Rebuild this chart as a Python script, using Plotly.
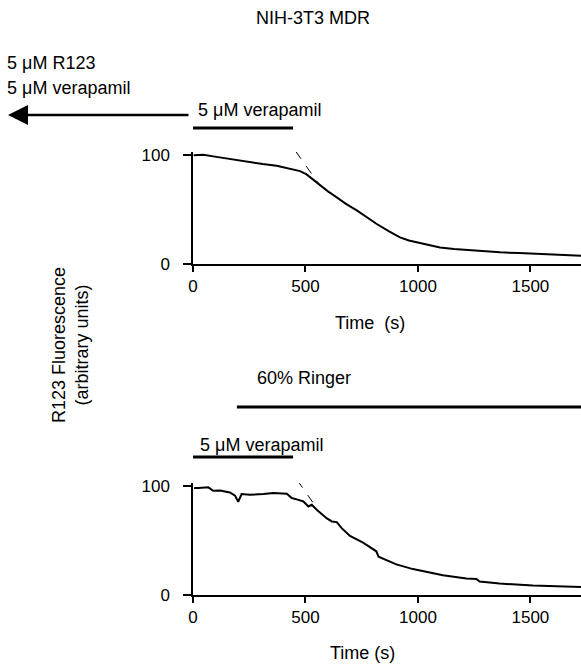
import plotly.graph_objects as go

# ---------------- data ----------------
time_top = [3, 46, 90, 135, 190, 253, 310, 372, 430, 476, 505, 535, 565, 600, 639, 680,
            728, 770, 817, 870, 920, 960, 995, 1050, 1098, 1160, 1217, 1290, 1365, 1450,
            1530, 1587, 1650, 1725]
fluor_top = [99.5, 100, 98.5, 97, 95.5, 93, 91.5, 90, 87.5, 85, 82, 77, 72, 66.5, 61, 55,
             49, 43, 36.6, 30, 24.4, 21.5, 19.8, 17, 15.2, 13.8, 12.8, 11.6, 10.7, 10,
             9.4, 9.1, 8.3, 7.6]

time_bot = [5, 24, 68, 90, 120, 164, 187, 201, 216, 253, 313, 357, 417, 439, 465, 491,
            513, 528, 550, 594, 617, 639, 661, 698, 756, 815, 825, 904, 978, 1037, 1111,
            1215, 1260, 1274, 1363, 1511, 1725]
fluor_bot = [98, 97.9, 98.5, 95.4, 95.7, 93.9, 90.8, 85.3, 92.4, 91.7, 92.4, 93.3, 92.7,
             88.7, 87.3, 85.6, 81, 82.6, 78, 70.3, 67.3, 66.7, 61.2, 54, 48, 40, 35, 28,
             23.7, 20.9, 18, 15.1, 14.6, 12.3, 10.5, 8.6, 7.4]

tangent_top_t = [457, 560]
tangent_top_f = [103, 73]
tangent_bot_t = [464, 542]
tangent_bot_f = [105, 82]

verapamil_interval = [0, 445]
ringer_interval = [195, 1800]

x_ticks = [0, 500, 1000, 1500]
y_ticks = [0, 100]

W, H = 581, 667
FONT = "Liberation Sans, Arial, sans-serif"


def px(x):
    return x / W


def py(y):
    return 1 - y / H


fig = go.Figure()

fig.add_trace(go.Scatter(x=time_top, y=fluor_top, mode="lines",
                         line=dict(color="black", width=2), xaxis="x", yaxis="y",
                         showlegend=False))
fig.add_trace(go.Scatter(x=tangent_top_t, y=tangent_top_f, mode="lines",
                         line=dict(color="black", width=1, dash="dash"), xaxis="x",
                         yaxis="y", showlegend=False, cliponaxis=False))
fig.add_trace(go.Scatter(x=time_bot, y=fluor_bot, mode="lines",
                         line=dict(color="black", width=2), xaxis="x2", yaxis="y2",
                         showlegend=False))
fig.add_trace(go.Scatter(x=tangent_bot_t, y=tangent_bot_f, mode="lines",
                         line=dict(color="black", width=1, dash="dash"), xaxis="x2",
                         yaxis="y2", showlegend=False, cliponaxis=False))

xdom = [px(193), 1.0]
ydom_top = [py(264), py(152)]
ydom_bot = [py(595), py(483)]

axis_common = dict(showgrid=False, zeroline=False, showline=True, linecolor="black",
                   linewidth=1.5, ticks="outside", tickcolor="black", tickwidth=1.5,
                   automargin=False,
                   tickfont=dict(family=FONT, size=17, color="black"))

fig.update_layout(
    template="none",
    width=W, height=H, autosize=False,
    margin=dict(l=0, r=0, t=0, b=0, pad=0),
    paper_bgcolor="white", plot_bgcolor="white",
    xaxis=dict(domain=xdom, range=[0, 1725], tickvals=x_ticks, ticklen=6,
               anchor="y", **axis_common),
    yaxis=dict(domain=ydom_top, range=[0, 102.5], tickvals=y_ticks, ticklen=8,
               anchor="x", ticklabelstandoff=10, **axis_common),
    xaxis2=dict(domain=xdom, range=[0, 1725], tickvals=x_ticks, ticklen=6,
                anchor="y2", **axis_common),
    yaxis2=dict(domain=ydom_bot, range=[0, 102.5], tickvals=y_ticks, ticklen=8,
                anchor="x2", ticklabelstandoff=10, **axis_common),
)

# condition bars
shapes = [
    dict(type="line", xref="x", yref="paper", x0=verapamil_interval[0],
         x1=verapamil_interval[1], y0=py(128), y1=py(128),
         line=dict(color="black", width=3)),
    dict(type="line", xref="x2", yref="paper", x0=verapamil_interval[0],
         x1=verapamil_interval[1], y0=py(457), y1=py(457),
         line=dict(color="black", width=3)),
    dict(type="line", xref="x2", yref="paper", x0=ringer_interval[0],
         x1=ringer_interval[1], y0=py(407), y1=py(407),
         line=dict(color="black", width=3)),
]
fig.update_layout(shapes=shapes)


def txt(x, y, s, xanchor="left", size=18, angle=0):
    return dict(x=px(x), y=py(y), xref="paper", yref="paper", text=s,
                showarrow=False, xanchor=xanchor, yanchor="middle", textangle=angle,
                font=dict(family=FONT, size=size, color="black"))


annotations = [
    txt(313, 18, "NIH-3T3 MDR", "center"),
    txt(5, 63, "5 μM R123"),
    txt(5, 88, "5 μM verapamil"),
    txt(196, 110, "5 μM verapamil"),
    txt(370, 323, "Time  (s)", "center"),
    txt(304, 378, "60% Ringer", "center"),
    txt(198, 445, "5 μM verapamil"),
    txt(362, 653, "Time (s)", "center"),
    txt(70, 345, "R123 Fluorescence<br>(arbitrary units)", "center", 18, -90),
    dict(x=px(8), y=py(115), xref="paper", yref="paper", text="", showarrow=True,
         ax=182, ay=0, axref="pixel", ayref="pixel", arrowhead=2, arrowsize=1.6,
         arrowwidth=2.5, arrowcolor="black"),
]
fig.update_layout(annotations=annotations)

fig.write_html("out.html")
